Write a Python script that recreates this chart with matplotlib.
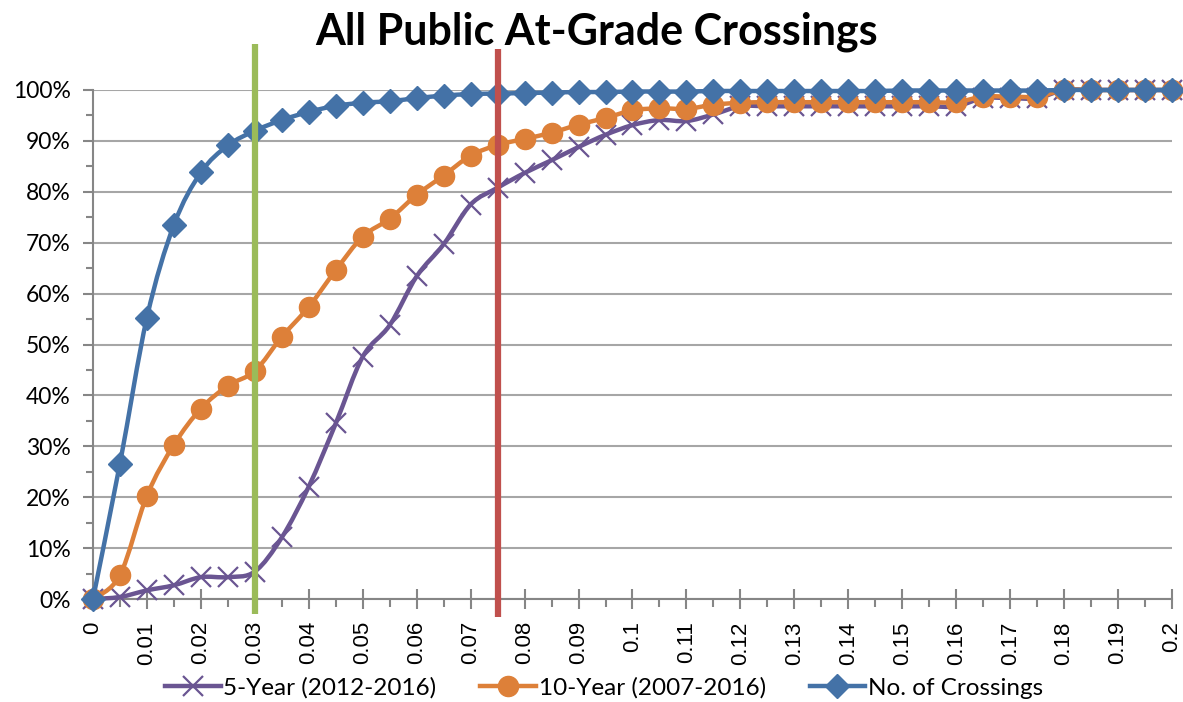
import numpy as np
import matplotlib
matplotlib.use("Agg")
import matplotlib.pyplot as plt
from matplotlib.path import Path
from matplotlib.patches import PathPatch
from matplotlib.lines import Line2D
from matplotlib.ticker import FuncFormatter, MultipleLocator

# ---------------- data ----------------
x_vals = [0.000, 0.005, 0.010, 0.015, 0.020, 0.025, 0.030, 0.035, 0.040, 0.045,
          0.050, 0.055, 0.060, 0.065, 0.070, 0.075, 0.080, 0.085, 0.090, 0.095,
          0.100, 0.105, 0.110, 0.115, 0.120, 0.125, 0.130, 0.135, 0.140, 0.145,
          0.150, 0.155, 0.160, 0.165, 0.170, 0.175, 0.180, 0.185, 0.190, 0.195,
          0.200]

five_year = [0.0, 0.4, 1.7, 2.7, 4.3, 4.3, 5.4, 12.1, 22.1, 34.5,
             47.6, 53.8, 63.4, 69.7, 77.5, 80.8, 83.7, 86.2, 88.8, 91.2,
             93.1, 94.1, 93.9, 95.2, 96.8, 96.8, 96.8, 96.8, 96.8, 96.8,
             96.8, 96.8, 96.8, 98.4, 98.4, 98.4, 100.0, 100.0, 100.0, 100.0,
             100.0]

ten_year = [0.0, 4.7, 20.3, 30.3, 37.4, 41.9, 44.8, 51.5, 57.4, 64.6,
            71.2, 74.7, 79.4, 83.2, 87.1, 89.2, 90.4, 91.6, 93.2, 94.5,
            96.0, 96.4, 96.3, 97.1, 97.5, 97.6, 97.6, 97.6, 97.6, 97.6,
            97.6, 97.6, 97.6, 98.7, 98.7, 98.7, 100.0, 100.0, 100.0, 100.0,
            100.0]

crossings = [0.0, 26.6, 55.3, 73.5, 83.8, 89.1, 92.0, 94.1, 95.7, 96.9,
             97.5, 97.8, 98.4, 98.9, 99.2, 99.3, 99.4, 99.5, 99.6, 99.6,
             99.7, 99.7, 99.7, 99.8, 99.8, 99.8, 99.8, 99.8, 99.8, 99.8,
             99.9, 99.9, 99.9, 99.9, 99.9, 99.9, 100.0, 100.0, 100.0, 100.0,
             100.0]

x_tick_values = [0.00, 0.01, 0.02, 0.03, 0.04, 0.05, 0.06, 0.07, 0.08, 0.09, 0.10,
                 0.11, 0.12, 0.13, 0.14, 0.15, 0.16, 0.17, 0.18, 0.19, 0.20]
x_tick_labels = ["0", "0.01", "0.02", "0.03", "0.04", "0.05", "0.06", "0.07", "0.08",
                 "0.09", "0.1", "0.11", "0.12", "0.13", "0.14", "0.15", "0.16", "0.17",
                 "0.18", "0.19", "0.2"]

green_line_x = 0.03
red_line_x = 0.075

series_names = ["5-Year (2012-2016)", "10-Year (2007-2016)", "No. of Crossings"]

# ---------------- styles ----------------
PURPLE = "#6A5592"
ORANGE = "#DD8039"
BLUE = "#4472A7"
GREEN = "#9BBB59"
RED = "#C0504D"
GRID = "#A6A6A6"
AXIS = "#868686"
FONT = "Lato"

fig = plt.figure(figsize=(11.83, 7.02), dpi=100)
ax = fig.add_axes([0.0786, 0.1467, 0.9121, 0.7251])


def smooth_path(xs, ys):
    xs = np.asarray(xs, float)
    ys = np.asarray(ys, float) / 100.0
    n = len(xs)
    verts = [(xs[0], ys[0])]
    codes = [Path.MOVETO]
    for i in range(n - 1):
        p0 = np.array([xs[max(i - 1, 0)], ys[max(i - 1, 0)]])
        p1 = np.array([xs[i], ys[i]])
        p2 = np.array([xs[i + 1], ys[i + 1]])
        p3 = np.array([xs[min(i + 2, n - 1)], ys[min(i + 2, n - 1)]])
        c1 = p1 + (p2 - p0) / 6.0
        c2 = p2 - (p3 - p1) / 6.0
        verts += [tuple(c1), tuple(c2), tuple(p2)]
        codes += [Path.CURVE4] * 3
    return Path(verts, codes)


series = [
    (five_year, PURPLE, "x", 14, dict(markeredgewidth=1.6, markeredgecolor=PURPLE)),
    (ten_year, ORANGE, "o", 14.5, dict(markeredgecolor=ORANGE)),
    (crossings, BLUE, "D", 12, dict(markeredgecolor=BLUE)),
]

handles = []
z = 3
for (vals, col, mk, ms, kw), name in zip(series, series_names):
    patch = PathPatch(smooth_path(x_vals, vals), facecolor="none", edgecolor=col,
                      lw=3.2, zorder=z, capstyle="round", joinstyle="round",
                      clip_on=False)
    ax.add_patch(patch)
    ax.plot(x_vals, np.array(vals) / 100.0, linestyle="none", marker=mk,
            markersize=ms, color=col, zorder=z + 0.5, clip_on=False, **kw)
    handles.append(Line2D([0], [0], color=col, lw=3.2, marker=mk, markersize=ms,
                          **kw))
    z += 1

# vertical reference lines (extend beyond plot area like drawn shapes)
ax.plot([green_line_x, green_line_x], [-0.03, 1.09], color=GREEN, lw=4.5,
        zorder=10, clip_on=False, solid_capstyle="butt")
ax.plot([red_line_x, red_line_x], [-0.035, 1.08], color=RED, lw=4.5,
        zorder=10, clip_on=False, solid_capstyle="butt")

# axes
ax.set_xlim(0, 0.2)
ax.set_ylim(0, 1.0)
ax.set_facecolor("white")
for s in ["top", "right"]:
    ax.spines[s].set_visible(False)
for s in ["left", "bottom"]:
    ax.spines[s].set_color(AXIS)
    ax.spines[s].set_linewidth(1.5)
    ax.spines[s].set_zorder(2)

ax.yaxis.set_major_locator(MultipleLocator(0.1))
ax.yaxis.set_minor_locator(MultipleLocator(0.05))
ax.yaxis.set_major_formatter(FuncFormatter(lambda v, p: f"{v*100:.0f}%"))
ax.grid(axis="y", which="major", color=GRID, lw=1.5, zorder=1)
ax.set_axisbelow(True)

ax.set_xticks(x_tick_values)
ax.set_xticklabels(x_tick_labels, rotation=90, fontfamily="Liberation Sans", fontsize=16)
ax.xaxis.set_minor_locator(MultipleLocator(0.005))

ax.tick_params(axis="y", which="major", direction="out", length=7, width=1.5,
               color=AXIS, pad=9, labelsize=16.5)
ax.tick_params(axis="y", which="minor", direction="out", length=5, width=1.5, color=AXIS)
ax.tick_params(axis="x", which="major", direction="inout", length=14, width=1.5,
               color=AXIS, pad=9)
ax.tick_params(axis="x", which="minor", direction="out", length=6, width=1.5, color=AXIS)
for lab in ax.get_yticklabels():
    lab.set_fontfamily(FONT)

fig.text(0.504, 1 - 44 / 702, "All Public At-Grade Crossings", ha="center",
         va="baseline", fontsize=31, fontweight="bold", fontfamily=FONT)

fig.legend(handles, series_names, loc="center", bbox_to_anchor=(0.5106, 0.02),
           ncol=3, frameon=False, prop={"family": FONT, "size": 17.5},
           handlelength=2.3, handletextpad=0.1, columnspacing=1.8,
           borderaxespad=0)

fig.savefig("out.png", dpi=100)
